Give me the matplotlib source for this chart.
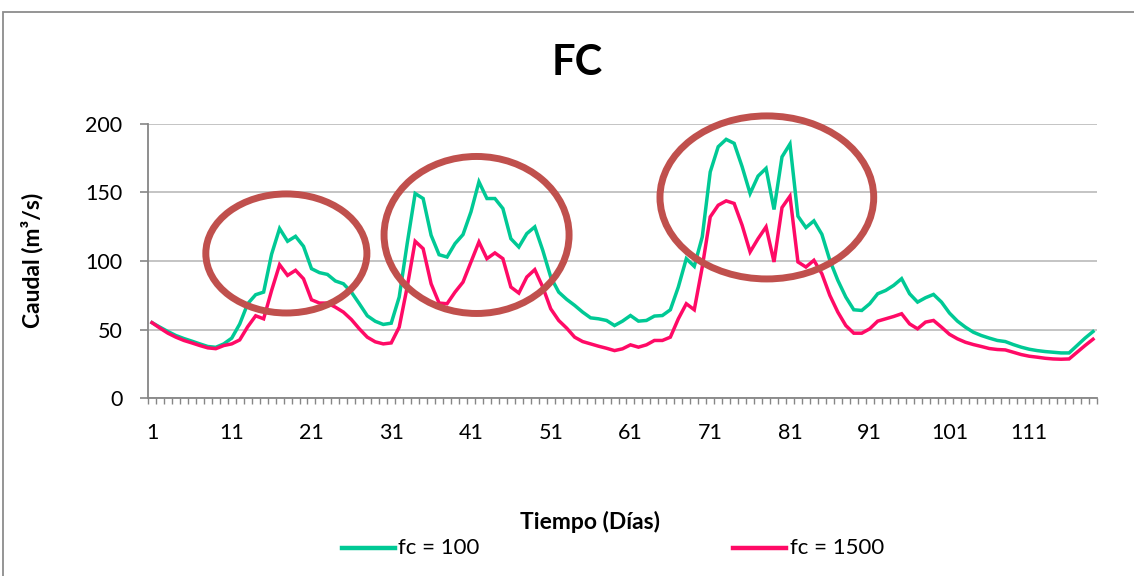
import matplotlib
matplotlib.use('Agg')
import matplotlib.pyplot as plt
from matplotlib.patches import Ellipse, Rectangle
from matplotlib.lines import Line2D
import numpy as np

plt.rcParams['font.family'] = ['Lato', 'DejaVu Sans']

# ---------------- data ----------------
fc100 = [55, 51.7, 48.5, 45.6, 43.4, 41.5, 39.5, 37.6, 37, 39.5,
         43.7, 54, 68.8, 75.4, 77.3, 105, 123.7, 114.4, 118, 110.7,
         94.4, 91.5, 90.2, 85.4, 83.4, 77.3, 68.8, 60, 56, 53.7,
         54.6, 73.7, 112.7, 149.3, 145.6, 118.8, 104.6, 102.9, 112.7, 119.3,
         135.9, 157.8, 145.6, 145.6, 138.3, 116.3, 110.2, 120, 124.9, 107.8,
         88.3, 77.3, 72, 67.6, 62.7, 58.5, 57.8, 56.6, 52.9, 56.1,
         60.2, 56.1, 56.6, 59.8, 60.2, 64.4, 81, 101.7, 96.1, 117.6,
         165, 183.4, 188.8, 185.9, 168.8, 149.3, 162, 167.6, 137.6, 176,
         185.4, 132.7, 124.4, 129.3, 119.5, 100.5, 85.9, 73.7, 64.4, 63.9,
         68.8, 76.1, 78.5, 82.2, 87.1, 76.1, 70, 73.2, 75.6, 70,
         62, 56.1, 51.7, 48, 45.6, 43.7, 42, 41.2, 39, 37.1,
         35.6, 34.6, 33.9, 33.4, 32.9, 32.9, 38.3, 43.7, 48.5]

fc1500 = [55, 51, 47.3, 44.4, 42, 40.2, 38.3, 36.6, 36, 38.3,
          39.5, 42.4, 52, 60, 57.8, 78.5, 97.3, 89.5, 93.2, 87,
          71.7, 69.3, 69.3, 66.3, 62.7, 57.3, 50.5, 44.4, 41, 39.5,
          40.2, 51.7, 81, 114.4, 109, 83.4, 69.3, 68.8, 77.3, 84.6,
          99.3, 113.9, 101.7, 105.9, 101.7, 81, 76.6, 88.3, 93.7, 81,
          65.1, 56.6, 51, 44.4, 41.2, 39.5, 37.8, 36.3, 34.6, 35.9,
          38.8, 37.1, 38.8, 42, 42, 44.4, 57.8, 68.8, 64.4, 95.6,
          132.2, 140.7, 143.9, 142, 126.1, 106.6, 116.3, 124.9, 99.3, 139,
          147.3, 99.3, 95.6, 100.5, 90.7, 74.9, 62.7, 52.9, 47.3, 47.3,
          50.5, 56.1, 57.8, 59.5, 61.5, 54.1, 50.5, 55.4, 56.6, 51.7,
          46.5, 43.2, 40.7, 39, 37.6, 36.1, 35.4, 35.1, 33.4, 31.7,
          30.5, 29.8, 29, 28.5, 28.3, 28.5, 33.4, 38.3, 42.9]

days = np.arange(1, len(fc100) + 1)
x_labels = [1, 11, 21, 31, 41, 51, 61, 71, 81, 91, 101, 111]
y_ticks = [0, 50, 100, 150, 200]
series_names = ['fc = 100', 'fc = 1500']

# highlight ellipses (centre day, centre value, width in days, height in units)
highlights = [(17.85, 105.5, 20.2, 86.9),
              (41.7, 119.0, 23.2, 114.6),
              (78.1, 146.4, 26.8, 119.0)]

# ---------------- style ----------------
GREEN = '#00C995'
PINK = '#FF0A66'
ELL = '#C0504D'
AXC = '#868686'
GRID = '#BFBFBF'

W, H = 1134, 576
fig = plt.figure(figsize=(W / 100, H / 100), dpi=100)
fig.patch.set_facecolor('white')

# outer chart frame (cropped on right and bottom)
fig.add_artist(Rectangle((3 / W, -0.05), 1.2, (H - 12) / H + 0.05,
                         transform=fig.transFigure, fill=False,
                         ec='#8C8C8C', lw=1.3))

ax = fig.add_axes([148 / W, 1 - 398 / H, (1097 - 148) / W, (398 - 124) / H])
ax.set_xlim(0.5, len(days) + 0.5)
ax.set_ylim(0, 200)

ax.plot(days, fc100, color=GREEN, lw=2.5, zorder=3, solid_joinstyle='miter')
ax.plot(days, fc1500, color=PINK, lw=2.5, zorder=3, solid_joinstyle='miter')

for cx, cy, w, h in highlights:
    ax.add_patch(Ellipse((cx, cy), w, h, fill=False, ec=ELL, lw=5.0,
                         zorder=5, clip_on=False))

ax.set_yticks(y_ticks)
ax.set_yticklabels([str(v) for v in y_ticks])
ax.yaxis.grid(True, color=GRID, lw=1.3)
ax.set_axisbelow(True)

ax.set_xticks(x_labels)
ax.set_xticklabels([str(v) for v in x_labels])
ax.set_xticks(np.arange(0.5, len(days) + 1, 1.0), minor=True)

for s in ['top', 'right']:
    ax.spines[s].set_visible(False)
for s in ['left', 'bottom']:
    ax.spines[s].set_color(AXC)
    ax.spines[s].set_linewidth(1.3)

ax.tick_params(axis='y', which='major', length=5.5, width=1.2, color=AXC,
               pad=13, labelsize=15.5, labelcolor='black')
ax.tick_params(axis='x', which='major', length=0, pad=18, labelsize=15.5,
               labelcolor='black')
ax.tick_params(axis='x', which='minor', length=4.5, width=1.0, color=AXC,
               direction='out')

# texts
fig.text(577 / W, 1 - 63 / H, 'FC', ha='center', va='center',
         fontsize=30, fontweight='bold')
fig.text(32 / W, 1 - 260 / H, 'Caudal (m³/s)', rotation=90, ha='center',
         va='center', fontsize=16.5, fontweight='bold')
fig.text(590 / W, 1 - 522 / H, 'Tiempo (Días)', ha='center', va='center',
         fontsize=16.5, fontweight='bold')

# legend
ly = 1 - 548 / H
for (x0, x1, tx), col, name in [((342, 395, 398), GREEN, series_names[0]),
                                ((733, 786, 790), PINK, series_names[1])]:
    fig.add_artist(Line2D([x0 / W, x1 / W], [ly, ly], transform=fig.transFigure,
                          color=col, lw=3.2))
    fig.text(tx / W, ly, name, ha='left', va='center', fontsize=16)

fig.savefig('out.png', dpi=100)
